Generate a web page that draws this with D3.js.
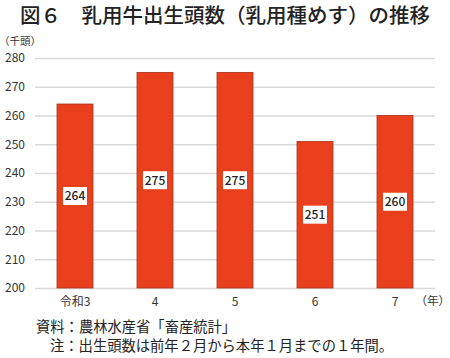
<!DOCTYPE html>
<html><head><meta charset="utf-8">
<script src="https://cdn.jsdelivr.net/npm/d3@7"></script>
<style>body{margin:0;background:#fff}svg{display:block}text{font-family:"Noto Sans CJK JP","Noto Sans",sans-serif}</style>
</head><body>
<svg id="c" width="450" height="358"></svg>
<script>
const categories = ["令和3","4","5","6","7"];
const values = [264,275,275,251,260];
const yTicks = [200,210,220,230,240,250,260,270,280];
const title = "図６　乳用牛出生頭数（乳用種めす）の推移";
const unitLabel = "（千頭）";
const xUnit = "（年）";
const notes = ["資料：農林水産省「畜産統計」","注：出生頭数は前年２月から本年１月までの１年間。"];

const svg = d3.select("#c");
const x = d3.scaleBand().domain(categories).range([35,435]).paddingInner(0.55).paddingOuter(0.275);
const y = d3.scaleLinear().domain([200,280]).range([288,58]);

svg.append("text").attr("x",20).attr("y",23).attr("font-size",20.5).attr("font-weight",500).attr("fill","#222").text(title);
svg.append("text").attr("x",-1).attr("y",45).attr("font-size",10.5).attr("fill","#333").text(unitLabel);

const gy = svg.append("g").attr("transform","translate(35,0)")
  .call(d3.axisLeft(y).tickValues(yTicks).tickSize(-400).tickPadding(10));
gy.select(".domain").remove();
gy.selectAll(".tick line").attr("stroke","#d9d9d9").attr("stroke-width",1.5);
gy.selectAll(".tick text").attr("font-size",12).attr("fill","#333").attr("font-family","Roboto,'Noto Sans',sans-serif");

svg.append("g").selectAll("rect").data(values).join("rect")
  .attr("x",(d,i)=>x(categories[i])).attr("width",x.bandwidth())
  .attr("y",d=>y(d)).attr("height",d=>y(200)-y(d))
  .attr("fill","#e8401c").attr("stroke","#a8321c").attr("stroke-width",0.8);

const lab = svg.append("g").selectAll("g").data(values).join("g")
  .attr("transform",(d,i)=>`translate(${x(categories[i])+x.bandwidth()/2},${(y(d)+y(200))/2})`);
lab.append("rect").attr("x",-12).attr("y",-9).attr("width",24).attr("height",18).attr("fill","#fff");
lab.append("text").attr("text-anchor","middle").attr("dy","0.36em").attr("font-size",12).attr("font-weight",500)
  .attr("fill","#222").attr("font-family","Roboto,'Noto Sans',sans-serif").text(d=>d);

const gx = svg.append("g").attr("transform","translate(0,288)")
  .call(d3.axisBottom(x).tickSize(0).tickPadding(9));
gx.select(".domain").remove();
gx.selectAll(".tick text").attr("font-size",12).attr("fill","#333");
svg.append("text").attr("x",450).attr("y",305).attr("text-anchor","end").attr("font-size",11.5).attr("fill","#333").text(xUnit);

svg.append("text").attr("x",36).attr("y",332).attr("font-size",14.3).attr("fill","#222").text(notes[0]);
svg.append("text").attr("x",50).attr("y",351).attr("font-size",14.3).attr("fill","#222").text(notes[1]);
</script>
</body></html>
